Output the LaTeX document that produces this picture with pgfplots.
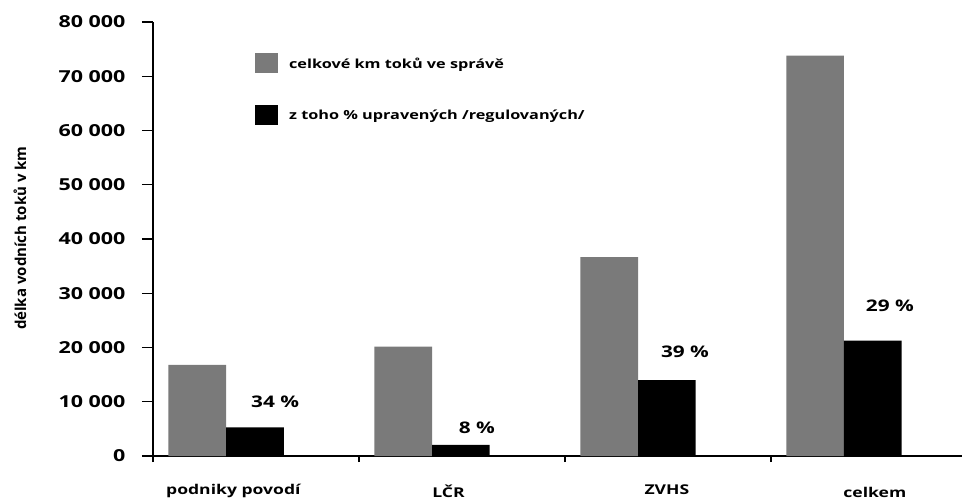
\documentclass[border=0pt]{standalone}
\usepackage{fontspec}
\setmainfont{Open Sans}
\newfontfamily\wide[FakeStretch=1.3]{Open Sans}
\usepackage{pgfplots}
\pgfplotsset{compat=1.18}
\definecolor{bargray}{RGB}{122,122,122}
\begin{document}
\begin{tikzpicture}
\begin{axis}[
  at={(0pt,0pt)}, anchor=south west,
  scale only axis, width=809pt, height=434pt,
  xmin=-0.355, xmax=3.573, ymin=0, ymax=80000,
  axis x line*=bottom, axis y line*=left,
  axis line style={line width=1.6pt,-},
  tick align=outside,
  ytick={0,10000,20000,30000,40000,50000,60000,70000,80000},
  yticklabels={0,10 000,20 000,30 000,40 000,50 000,60 000,70 000,80 000},
  scaled y ticks=false,
  major tick length=11pt,
  every tick/.style={line width=1.4pt, black},
  y tick label style={font=\wide\bfseries\fontsize{16.5}{16.5}\selectfont, xshift=-13pt},
  xtick={0.035,1.08,2.14,3.15},
  xticklabels={podniky povodí,LČR,ZVHS,\raisebox{-13pt}{celkem}},
  x tick label style={font=\wide\bfseries\fontsize{13.5}{13.5}\selectfont, yshift=-14pt},
  x tick style={draw=none},
  extra x ticks={-0.355,0.645,1.645,2.645},
  extra x tick labels={},
  extra x tick style={x tick style={draw=black}, major tick length=6pt},
  ylabel={délka vodních toků v km},
  ylabel style={at={(axis description cs:-0.1644,0.502)}, anchor=center, font=\bfseries\fontsize{15}{15}\selectfont},
  legend style={draw=none, fill=none, at={(axis description cs:0.126,0.9286)}, anchor=north west,
    inner sep=0pt, row sep=32pt, font=\wide\bfseries\fontsize{12.5}{12.5}\selectfont,
    nodes={inner sep=0pt, text depth=0pt}},
  legend cell align=left,
]
\addplot[ybar, bar width=0.28, bar shift=-0.14, fill=bargray, draw=none,
  legend image code/.code={\fill[bargray] (0pt,-10pt) rectangle (23pt,10pt); \path (34pt,0pt);}]
  coordinates {(0,16800) (1,20150) (2,36650) (3,73800)};
\addlegendentry{celkové km toků ve správě}
\addplot[ybar, bar width=0.28, bar shift=0.14, fill=black, draw=none,
  legend image code/.code={\fill[black] (0pt,-10pt) rectangle (23pt,10pt); \path (34pt,0pt);}]
  coordinates {(0,5300) (1,2050) (2,14000) (3,21250)};
\addlegendentry{z toho \% upravených /regulovaných/}
\begin{scope}[every node/.style={font=\wide\bfseries\fontsize{16}{16}\selectfont, anchor=center}]
\node at (axis cs:0.238,9950) {34 \%};
\node at (axis cs:1.218,5160) {8 \%};
\node at (axis cs:2.228,19170) {39 \%};
\node at (axis cs:3.223,27650) {29 \%};
\end{scope}
\end{axis}
\pgfresetboundingbox
\path (-153pt,-43pt) rectangle (809pt,456pt);
\end{tikzpicture}
\end{document}
